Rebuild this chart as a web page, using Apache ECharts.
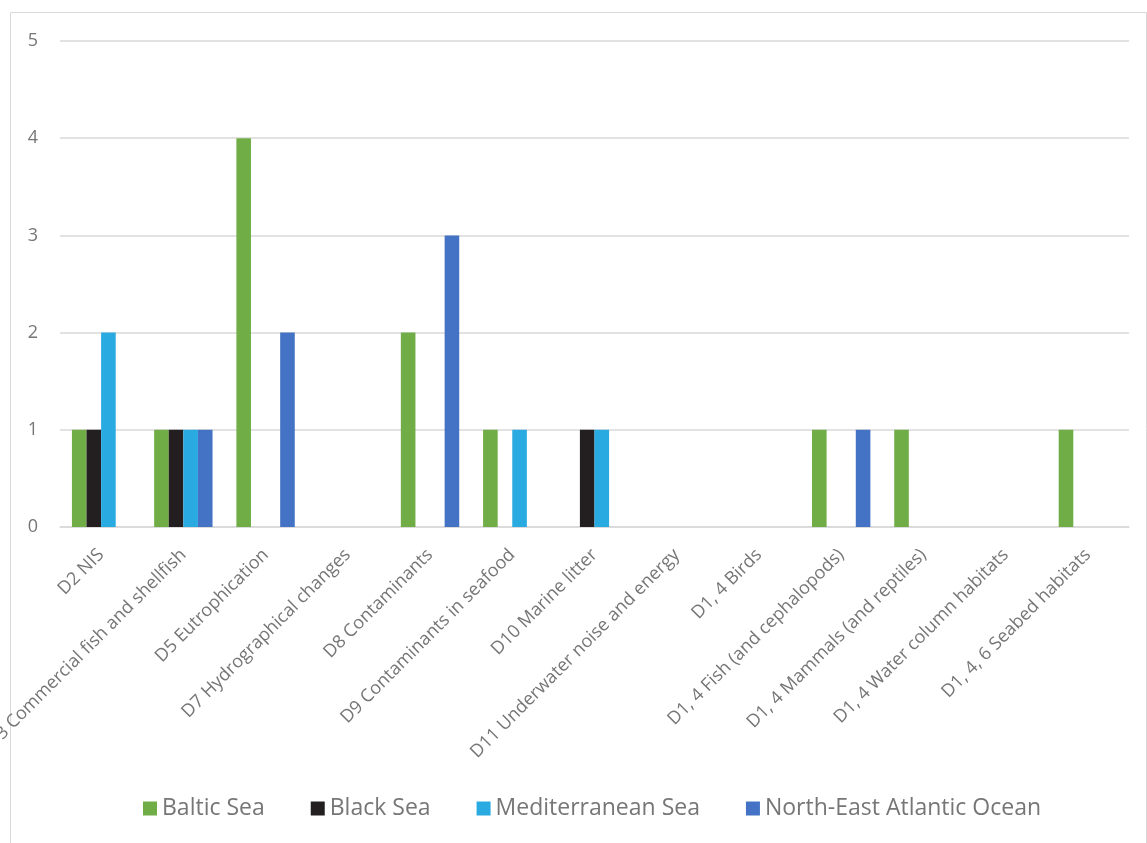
<!DOCTYPE html>
<html><head><meta charset="utf-8">
<script src="https://cdn.jsdelivr.net/npm/echarts@6/dist/echarts.min.js"></script>
<style>html,body{margin:0;padding:0;background:#fff}#c{width:1147px;height:843px}</style>
</head><body><div id="c"></div>
<script>
var categories = ["D2 NIS","D3 Commercial fish and shellfish","D5 Eutrophication","D7 Hydrographical changes","D8 Contaminants","D9 Contaminants in seafood","D10 Marine litter","D11 Underwater noise and energy","D1, 4 Birds","D1, 4 Fish (and cephalopods)","D1, 4 Mammals (and reptiles)","D1, 4 Water column habitats","D1, 4, 6 Seabed habitats"];
var baltic = [1,1,4,0,2,1,0,0,0,1,1,0,1];
var black = [1,1,0,0,0,0,1,0,0,0,0,0,0];
var mediterranean = [2,1,0,0,0,1,1,0,0,0,0,0,0];
var northEastAtlantic = [0,1,2,0,3,0,0,0,0,1,0,0,0];
var seriesNames = ["Baltic Sea","Black Sea","Mediterranean Sea","North-East Atlantic Ocean"];
var colors = ["#70AD47","#231F20","#29ABE2","#4472C4"];
var chart = echarts.init(document.getElementById('c'));
var font = "'Open Sans', 'Noto Sans', sans-serif";
function mk(i, d){return {name: seriesNames[i], type:'bar', data:d, barGap:'0%', barCategoryGap:'29%', itemStyle:{color:colors[i]}};}
chart.setOption({
  animation:false,
  textStyle:{fontFamily:font},
  graphic:[{type:'rect', shape:{x:10.5,y:12.5,width:1136,height:840}, style:{fill:'none', stroke:'#d9d9d9', lineWidth:1}, silent:true}],
  grid:{left:60, right:18, top:41, bottom:316, containLabel:false, outerBoundsMode:'none'},
  legend:{bottom:18, left:138, itemWidth:14, itemHeight:14, itemGap:46, icon:'rect',
    textStyle:{fontSize:23, color:'#767676', fontFamily:font}, data:seriesNames},
  xAxis:{type:'category', data:categories,
    axisLine:{lineStyle:{color:'#d9d9d9', width:1.5}}, axisTick:{show:false},
    axisLabel:{rotate:45, interval:0, fontSize:18, color:'#767676', margin:25, fontFamily:font}},
  yAxis:{type:'value', min:0, max:5, interval:1,
    axisLine:{show:false}, axisTick:{show:false},
    splitLine:{lineStyle:{color:'#d9d9d9', width:1.5}},
    axisLabel:{fontSize:18, color:'#767676', margin:22, fontFamily:font}},
  series:[mk(0,baltic), mk(1,black), mk(2,mediterranean), mk(3,northEastAtlantic)]
});
</script></body></html>
